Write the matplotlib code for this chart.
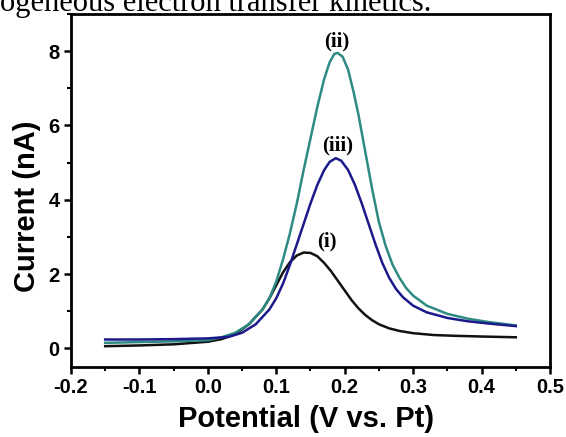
import matplotlib
matplotlib.use("Agg")
import matplotlib.pyplot as plt
from matplotlib.ticker import MultipleLocator

# potential (V vs. Pt) and current (nA)
v_i = [-0.15, -0.10, -0.05, 0.00, 0.02, 0.04, 0.06, 0.08, 0.09, 0.10, 0.11, 0.12,
       0.13, 0.14, 0.15, 0.16, 0.17, 0.18, 0.19, 0.20, 0.21, 0.22, 0.23, 0.24,
       0.25, 0.265, 0.28, 0.30, 0.33, 0.36, 0.40, 0.45]
cur_i = [0.06, 0.08, 0.11, 0.18, 0.25, 0.38, 0.65, 1.05, 1.35, 1.70, 2.05, 2.32,
         2.50, 2.58, 2.57, 2.48, 2.30, 2.08, 1.82, 1.56, 1.30, 1.08, 0.90, 0.76,
         0.65, 0.54, 0.47, 0.41, 0.36, 0.34, 0.32, 0.30]

v_ii = [-0.15, -0.10, -0.05, 0.00, 0.02, 0.04, 0.06, 0.08, 0.09, 0.10, 0.11, 0.12,
        0.13, 0.14, 0.15, 0.16, 0.17, 0.178, 0.185, 0.19, 0.197, 0.205, 0.213,
        0.22, 0.23, 0.24, 0.25, 0.26, 0.27, 0.28, 0.29, 0.30, 0.32, 0.35, 0.38,
        0.41, 0.45]
cur_ii = [0.15, 0.17, 0.19, 0.22, 0.30, 0.42, 0.65, 1.05, 1.35, 1.80, 2.40, 3.10,
          3.90, 4.80, 5.65, 6.50, 7.25, 7.70, 7.93, 7.95, 7.85, 7.50, 6.90,
          6.30, 5.30, 4.30, 3.40, 2.75, 2.25, 1.90, 1.62, 1.42, 1.15, 0.93, 0.80,
          0.71, 0.62]

v_iii = [-0.15, -0.10, -0.05, 0.00, 0.03, 0.05, 0.07, 0.09, 0.10, 0.11, 0.12, 0.13,
         0.14, 0.15, 0.16, 0.17, 0.178, 0.187, 0.195, 0.205, 0.215, 0.225, 0.235,
         0.245, 0.255, 0.265, 0.275, 0.285, 0.30, 0.32, 0.35, 0.38, 0.41, 0.45]
cur_iii = [0.24, 0.24, 0.25, 0.27, 0.31, 0.42, 0.65, 1.05, 1.35, 1.75, 2.25, 2.80,
           3.35, 3.90, 4.40, 4.80, 5.02, 5.12, 5.05, 4.80, 4.40, 3.90, 3.35,
           2.80, 2.30, 1.90, 1.60, 1.38, 1.15, 0.97, 0.82, 0.73, 0.67, 0.60]

labels = ["(i)", "(ii)", "(iii)"]
label_pos = [(0.174, 2.88), (0.189, 8.25), (0.189, 5.47)]

fig = plt.figure(figsize=(5.66, 4.37), dpi=100)
ax = fig.add_axes([0.1254, 0.1602, 0.8463, 0.8078])

ax.plot(v_i, cur_i, color="#111111", lw=1.8)
ax.plot(v_ii, cur_ii, color="#2e8b83", lw=1.8)
ax.plot(v_iii, cur_iii, color="#1c1a8a", lw=1.8)

for lab, (x, y) in zip(labels, label_pos):
    ax.text(x, y, lab, ha="center", va="center", fontsize=15,
            fontweight="bold", family="Liberation Serif")

ax.set_xlim(-0.2, 0.5)
ax.set_ylim(-0.5, 9.0)
ax.xaxis.set_major_locator(MultipleLocator(0.1))
ax.xaxis.set_minor_locator(MultipleLocator(0.05))
ax.yaxis.set_major_locator(MultipleLocator(2))
ax.yaxis.set_minor_locator(MultipleLocator(1))
ax.set_xticklabels([f"{t:.1f}" for t in ax.get_xticks()])

for s in ax.spines.values():
    s.set_linewidth(2)
ax.tick_params(which="major", direction="out", length=5, width=1.8,
               labelsize=14.5, top=False, right=False, pad=3)
ax.tick_params(which="minor", direction="out", length=3, width=1.5,
               top=False, right=False)
for t in ax.get_xticklabels() + ax.get_yticklabels():
    t.set_fontweight("bold")
    t.set_family("Liberation Sans")

ax.set_xlabel("Potential (V vs. Pt)", fontsize=21, fontweight="bold",
              family="Liberation Sans")
ax.set_ylabel("Current (nA)", fontsize=21, fontweight="bold",
              family="Liberation Sans")
ax.xaxis.set_label_coords(0.49, -0.108)
ax.yaxis.set_label_coords(-0.063, 0.455)

# clipped line of paper text above the figure
fig.text(0.0, 1 - 11 / 437, "ogeneous electron transfer kinetics.",
         fontsize=22, family="Liberation Serif", va="baseline", ha="left")

fig.savefig("out.png", dpi=100)
